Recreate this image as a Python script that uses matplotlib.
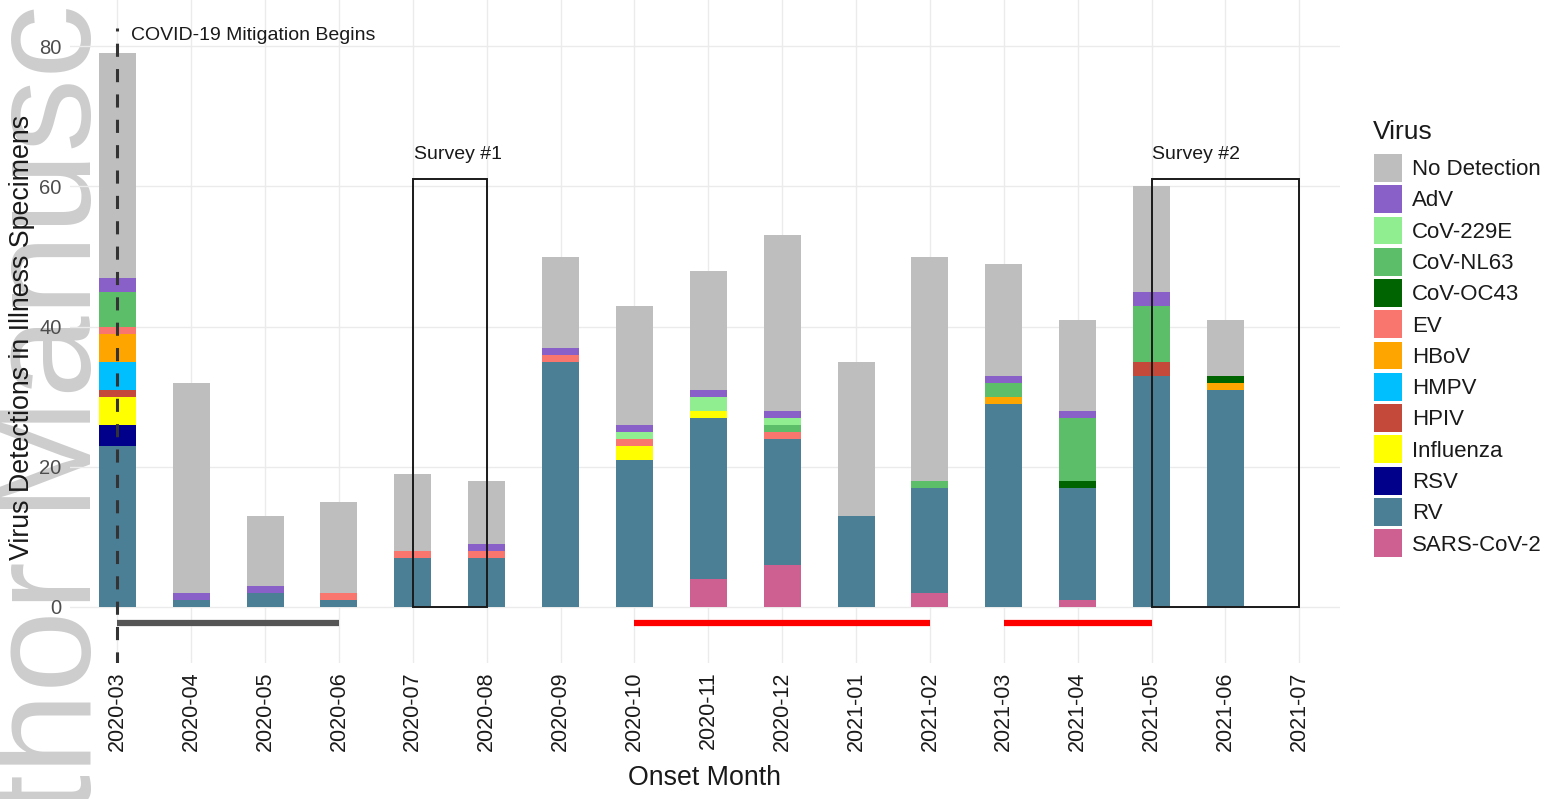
import matplotlib
matplotlib.use("Agg")
import matplotlib.pyplot as plt
from matplotlib.patches import Rectangle, Patch
import numpy as np

plt.rcParams['font.family'] = ['Liberation Sans', 'DejaVu Sans']

months = ["2020-03", "2020-04", "2020-05", "2020-06", "2020-07", "2020-08",
          "2020-09", "2020-10", "2020-11", "2020-12", "2021-01", "2021-02",
          "2021-03", "2021-04", "2021-05", "2021-06", "2021-07"]

# stacking order bottom -> top
sars = [0, 0, 0, 0, 0, 0, 0, 0, 4, 6, 0, 2, 0, 1, 0, 0, 0]
rv   = [23, 1, 2, 1, 7, 7, 35, 21, 23, 18, 13, 15, 29, 16, 33, 31, 0]
rsv  = [3, 0, 0, 0, 0, 0, 0, 0, 0, 0, 0, 0, 0, 0, 0, 0, 0]
flu  = [4, 0, 0, 0, 0, 0, 0, 2, 1, 0, 0, 0, 0, 0, 0, 0, 0]
hpiv = [1, 0, 0, 0, 0, 0, 0, 0, 0, 0, 0, 0, 0, 0, 2, 0, 0]
hmpv = [4, 0, 0, 0, 0, 0, 0, 0, 0, 0, 0, 0, 0, 0, 0, 0, 0]
hbov = [4, 0, 0, 0, 0, 0, 0, 0, 0, 0, 0, 0, 1, 0, 0, 1, 0]
ev   = [1, 0, 0, 1, 1, 1, 1, 1, 0, 1, 0, 0, 0, 0, 0, 0, 0]
oc43 = [0, 0, 0, 0, 0, 0, 0, 0, 0, 0, 0, 0, 0, 1, 0, 1, 0]
nl63 = [5, 0, 0, 0, 0, 0, 0, 0, 0, 1, 0, 1, 2, 9, 8, 0, 0]
e229 = [0, 0, 0, 0, 0, 0, 0, 1, 2, 1, 0, 0, 0, 0, 0, 0, 0]
adv  = [2, 1, 1, 0, 0, 1, 1, 1, 1, 1, 0, 0, 1, 1, 2, 0, 0]
nodet = [32, 30, 10, 13, 11, 9, 13, 17, 17, 25, 22, 32, 16, 13, 15, 8, 0]

virus_names = ["SARS-CoV-2", "RV", "RSV", "Influenza", "HPIV", "HMPV", "HBoV",
               "EV", "CoV-OC43", "CoV-NL63", "CoV-229E", "AdV", "No Detection"]
virus_values = [sars, rv, rsv, flu, hpiv, hmpv, hbov, ev, oc43, nl63, e229, adv, nodet]
virus_colors = ["#CD6090", "#4B7F95", "#00008B", "#FFFF00", "#C5493A", "#00BFFF",
                "#FFA500", "#F8766D", "#006400", "#5DBE6A", "#90EE90", "#8960C7",
                "#BEBEBE"]

y_ticks = [0, 20, 40, 60, 80]

# survey windows (label, start month, end month, height)
surveys = [("Survey #1", "2020-07", "2020-08", 61), ("Survey #2", "2021-05", "2021-07", 61)]
mitigation_month = "2020-03"
gray_period = ("2020-03", "2020-06")
red_periods = [("2020-10", "2021-02"), ("2021-03", "2021-05")]

fig = plt.figure(figsize=(15.51, 7.99), dpi=100)
# watermark (behind everything)
fig.text(91 / 1551, 1 - 995 / 799, "Author Manuscript", rotation=90, rotation_mode='anchor',
         ha='left', va='baseline', fontsize=106, color='#CDCDCD', zorder=-5)

ax = fig.add_axes([70 / 1551, 1 - 663 / 799, 1270 / 1551, 663 / 799])
ax.set_facecolor('none')
x = np.arange(len(months))
idx = {m: i for i, m in enumerate(months)}

bottom = np.zeros(len(months))
for name, vals, col in zip(virus_names, virus_values, virus_colors):
    v = np.array(vals, dtype=float)
    ax.bar(x, v, width=0.5, bottom=bottom, color=col, linewidth=0, zorder=2)
    bottom += v

ax.set_xlim(-0.64, 16.55)
ax.set_ylim(-8, 86.6)
ax.set_yticks(y_ticks)
ax.set_xticks(x)
ax.set_xticklabels(months, rotation=90, fontsize=15.5, color='#1A1A1A')
ax.tick_params(axis='y', labelsize=14.5, colors='#4D4D4D', length=0, pad=6)
ax.tick_params(axis='x', length=0, pad=6)
ax.grid(True, color='#EBEBEB', linewidth=1.0, zorder=0)
ax.set_axisbelow(True)
for s in ax.spines.values():
    s.set_visible(False)

# mitigation line
mx = idx[mitigation_month]
ax.plot([mx, mx], [-8.3, 82.6], color='#333333', lw=2.2, linestyle=(0, (4.3, 4.0)),
        zorder=4, solid_capstyle='butt', dash_capstyle='butt')
ax.text(mx + 0.18, 81.6, "COVID-19 Mitigation Begins", fontsize=14, color='#1A1A1A',
        ha='left', va='center', zorder=5)

# surveys
for label, s0, s1, h in surveys:
    a, b = idx[s0], idx[s1]
    ax.add_patch(Rectangle((a, 0), b - a, h, fill=False, edgecolor='#1A1A1A', lw=1.4, zorder=4))
    ax.text(a + 0.01, h + 3.6, label, fontsize=14, color='#1A1A1A', ha='left', va='center', zorder=5)

# period bars below axis
ax.plot([idx[gray_period[0]], idx[gray_period[1]]], [-2.3, -2.3], color='#555555', lw=4.5,
        solid_capstyle='butt', zorder=3)
for p0, p1 in red_periods:
    ax.plot([idx[p0], idx[p1]], [-2.3, -2.3], color='#FF0000', lw=4.5, solid_capstyle='butt', zorder=3)

ax.set_ylabel("Virus Detections in Illness Specimens", fontsize=19.3, color='#1A1A1A')
ax.yaxis.set_label_coords((22 - 70) / 1270, (663 - 337) / 663)
ax.yaxis.label.set_va('center')
ax.set_xlabel("Onset Month", fontsize=19.3, color='#1A1A1A')
ax.xaxis.set_label_coords(0.5, (663 - 778) / 663)
ax.xaxis.label.set_va('center')

handles = [Patch(facecolor=c, edgecolor='none', label=n)
           for n, c in zip(virus_names[::-1], virus_colors[::-1])]
leg = fig.legend(handles=handles, loc='upper left',
                 bbox_to_anchor=(1374 / 1551, 1 - 154 / 799), frameon=False,
                 fontsize=16, handlelength=1.27, handleheight=1.55,
                 handletextpad=0.45, labelspacing=0.155, borderpad=0, borderaxespad=0)
for t in leg.get_texts():
    t.set_color('#1A1A1A')
fig.text(1373 / 1551, 1 - 132 / 799, "Virus", fontsize=19, color='#1A1A1A',
         ha='left', va='center')

fig.savefig("out.png", dpi=100)
